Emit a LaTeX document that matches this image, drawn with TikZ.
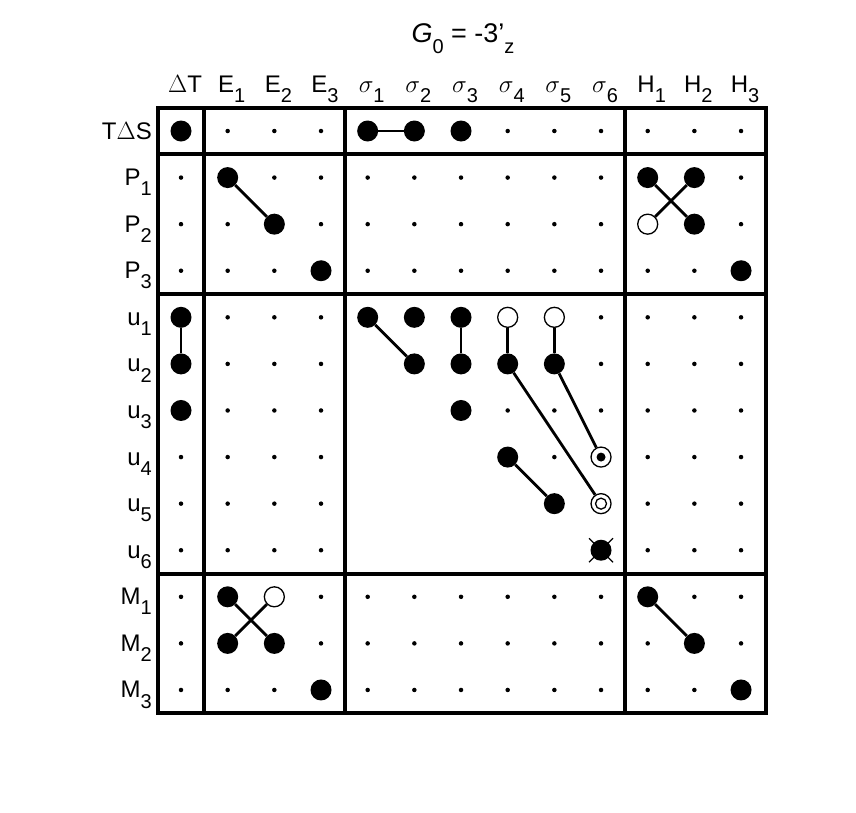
\documentclass[tikz,border=0pt]{standalone}
\usepackage{fontspec}
\setmainfont{Liberation Sans}
\usetikzlibrary{positioning}

\newcommand{\sub}[2]{#1\raisebox{-0.8ex}{\fontsize{20}{20}\selectfont #2}}
\newcommand{\gsub}[1]{$\sigma$\raisebox{-0.8ex}{\fontsize{20}{20}\selectfont #1}}

\begin{document}
\begin{tikzpicture}[
  x=1pt, y=-1pt,
  bigdot/.style={circle, fill=black, inner sep=0pt, minimum size=21pt},
  smalldot/.style={circle, fill=black, inner sep=0pt, minimum size=4.5pt},
  opendot/.style={circle, draw=black, line width=1.3pt, fill=white, inner sep=0pt, minimum size=20pt},
  link/.style={line width=2.8pt},
  frame/.style={line width=3.2pt},
  lab/.style={font=\fontsize{24}{26}\selectfont, inner sep=0pt}
]
\useasboundingbox (0,0) rectangle (856,812);

% Title
\node[lab, font=\fontsize{27}{29}\selectfont, anchor=base] (title) at (463,42) {\sub{\textit{G}}{0} = -3\sub{'}{z}};

% Column heads
\foreach \c/\t in {0/{$\Delta$T},1/{\sub{E}{1}},2/{\sub{E}{2}},3/{\sub{E}{3}},
  4/{\gsub{1}},5/{\gsub{2}},6/{\gsub{3}},7/{\gsub{4}},8/{\gsub{5}},9/{\gsub{6}},
  10/{\sub{H}{1}},11/{\sub{H}{2}},12/{\sub{H}{3}}}
  \node[lab, anchor=base] (head\c) at ({185+46.67*\c},92) {\t};

% Row heads
\foreach \r/\t in {0/{T$\Delta$S},1/{\sub{P}{1}},2/{\sub{P}{2}},3/{\sub{P}{3}},
  4/{\sub{u}{1}},5/{\sub{u}{2}},6/{\sub{u}{3}},7/{\sub{u}{4}},8/{\sub{u}{5}},9/{\sub{u}{6}},
  10/{\sub{M}{1}},11/{\sub{M}{2}},12/{\sub{M}{3}}}
  \node[lab, anchor=base east] (row\r) at (152,{131+46.58*\r+8}) {\t};

% Small dots
\foreach \r/\cols in {0/{1,2,3,7,8,9,10,11,12},1/{0,2,3,4,5,6,7,8,9,12},
  2/{0,1,3,4,5,6,7,8,9,12},3/{0,1,2,4,5,6,7,8,9,10,11},
  4/{1,2,3,9,10,11,12},5/{1,2,3,9,10,11,12},6/{1,2,3,7,8,9,10,11,12},
  7/{0,1,2,3,8,10,11,12},8/{0,1,2,3,10,11,12},9/{0,1,2,3,10,11,12},
  10/{0,3,4,5,6,7,8,9,11,12},11/{0,3,4,5,6,7,8,9,10,12},12/{0,1,2,4,5,6,7,8,9,10,11}}
  \foreach \c in \cols
    \node[smalldot] (\c-\r) at ({181+46.67*\c},{131+46.58*\r}) {};

% Big dots
\foreach \c/\r in {0/0,4/0,5/0,6/0, 1/1,10/1,11/1, 2/2,11/2, 3/3,12/3,
  0/4,4/4,5/4,6/4, 0/5,5/5,6/5,7/5,8/5, 0/6,6/6, 7/7, 8/8, 9/9,
  1/10,10/10, 1/11,2/11,11/11, 3/12,12/12}
  \node[bigdot] (\c-\r) at ({181+46.67*\c},{131+46.58*\r}) {};

% Open and marked dots
\foreach \c/\r in {10/2,7/4,8/4,2/10,9/7,9/8}
  \node[opendot] (\c-\r) at ({181+46.67*\c},{131+46.58*\r}) {};
\fill (9-7.center) circle (4.5);
\draw[line width=1.3pt] (9-8.center) circle (5.5);
\draw[line width=1.3pt] (9-9.center) +(-12,-12) -- +(12,12) (9-9.center) +(-12,12) -- +(12,-12);

% Links
\foreach \a/\b in {4-0/5-0, 1-1/2-2, 10-1/11-2, 11-1/10-2, 0-4/0-5, 4-4/5-5,
  6-4/6-5, 7-4/7-5, 8-4/8-5, 7-5/9-8, 8-5/9-7, 7-7/8-8, 1-10/2-11, 2-10/1-11, 10-10/11-11}
  \draw[link] (\a) -- (\b);

% Frame
\draw[frame] (158,108) rectangle (766,713);
\draw[frame] (204,108) -- (204,713) (345,108) -- (345,713) (625,108) -- (625,713);
\draw[frame] (158,154) -- (766,154) (158,294) -- (766,294) (158,574) -- (766,574);
\end{tikzpicture}
\end{document}
